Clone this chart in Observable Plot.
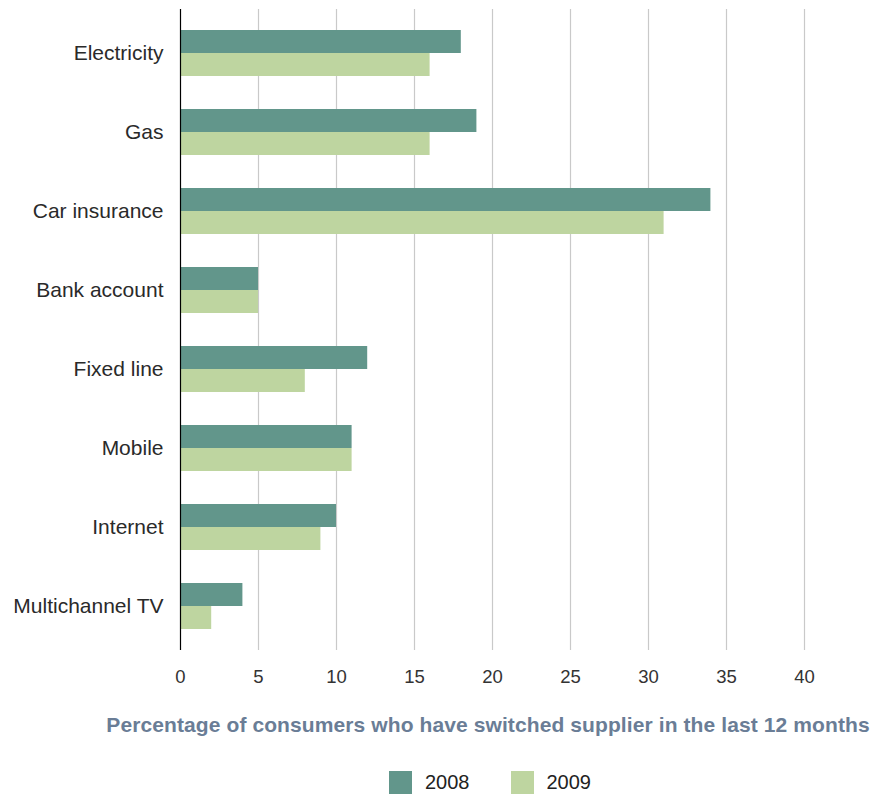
<!DOCTYPE html>
<html>
<head>
<meta charset="utf-8">
<script src="https://cdn.jsdelivr.net/npm/d3@7"></script>
<script src="https://cdn.jsdelivr.net/npm/@observablehq/plot@0.6"></script>
<style>
  html, body { margin: 0; padding: 0; background: #fff; }
  body { width: 874px; height: 796px; position: relative; overflow: hidden; font-family: "Liberation Sans", Arial, sans-serif; }
  #chart svg { display: block; }
  .xtitle { position: absolute; top: 712px; left: 488px; transform: translateX(-50%); white-space: nowrap;
    font-size: 21px; line-height: 26px; font-weight: bold; color: #6a7d96; letter-spacing: 0.1px; }
  .legend { position: absolute; top: 770px; left: 490px; transform: translateX(-50%); display: flex; align-items: center;
    white-space: nowrap; font-size: 20px; line-height: 24px; color: #222; }
  .legend .sw { width: 23px; height: 23px; display: inline-block; margin-right: 13px; }
  .legend .item { display: flex; align-items: center; margin-right: 41px; }
  .legend .item:last-child { margin-right: 0; }
</style>
</head>
<body>
<div id="chart"></div>
<div class="xtitle" id="xtitle"></div>
<div class="legend" id="legend"></div>
<script>
const categories = ["Electricity", "Gas", "Car insurance", "Bank account", "Fixed line", "Mobile", "Internet", "Multichannel TV"];
const years = ["2008", "2009"];
const values2008 = [18, 19, 34, 5, 12, 11, 10, 4];
const values2009 = [16, 16, 31, 5, 8, 11, 9, 2];
const xTicks = [0, 5, 10, 15, 20, 25, 30, 35, 40];
const colors = ["#62968b", "#bed5a0"];
const xTitle = "Percentage of consumers who have switched supplier in the last 12 months";

const data2008 = categories.map((c, i) => ({category: c, year: years[0], value: values2008[i]}));
const data2009 = categories.map((c, i) => ({category: c, year: years[1], value: values2009[i]}));

const chart = Plot.plot({
  width: 874,
  height: 700,
  marginLeft: 180,
  marginRight: 70,
  marginTop: 9,
  marginBottom: 50,
  style: {fontFamily: "'Liberation Sans', Arial, sans-serif", background: "#fff"},
  x: {domain: [0, 40], ticks: xTicks, label: null},
  y: {domain: categories, paddingInner: 0.42, paddingOuter: 0.26, label: null},
  color: {domain: years, range: colors},
  marks: [
    Plot.ruleX(xTicks.filter(d => d > 0), {stroke: "#c9c9c9", strokeWidth: 1.2}),
    Plot.barX(data2008, {x: "value", y: "category", fill: "year", insetBottom: 23, insetTop: 0}),
    Plot.barX(data2009, {x: "value", y: "category", fill: "year", insetTop: 23, insetBottom: 0}),
    Plot.ruleX([0], {stroke: "#000", strokeWidth: 1.2}),
    Plot.axisX({ticks: xTicks, tickSize: 0, tickPadding: 19, fontSize: 18.5, color: "#333", label: null}),
    Plot.axisY({tickSize: 0, tickPadding: 17, fontSize: 21, color: "#2a2a2a", label: null})
  ]
});
document.getElementById("chart").appendChild(chart);

document.getElementById("xtitle").textContent = xTitle;
const legend = document.getElementById("legend");
years.forEach((y, i) => {
  const item = document.createElement("div");
  item.className = "item";
  const sw = document.createElement("span");
  sw.className = "sw";
  sw.style.background = colors[i];
  const t = document.createElement("span");
  t.textContent = y;
  item.appendChild(sw);
  item.appendChild(t);
  legend.appendChild(item);
});
</script>
</body>
</html>
